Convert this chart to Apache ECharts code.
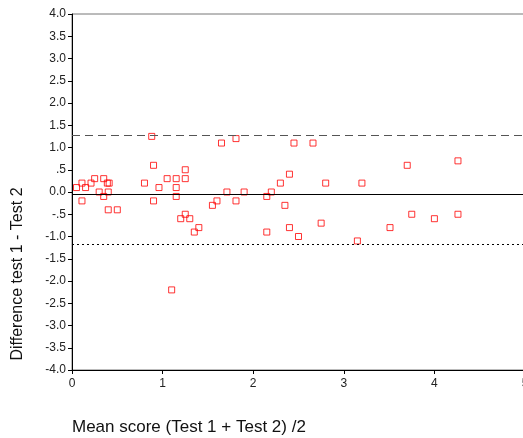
<!DOCTYPE html>
<html>
<head>
<meta charset="utf-8">
<script src="https://cdn.jsdelivr.net/npm/echarts@6/dist/echarts.min.js"></script>
<style>
  html, body { margin: 0; padding: 0; background: #fff; }
  #chart { width: 523px; height: 438px; }
</style>
</head>
<body>
<div id="chart"></div>
<script>
// mean of the two tests (x) and their difference (y)
const meanScores = [
  0.05, 0.11, 0.11, 0.15, 0.21, 0.25, 0.30, 0.35, 0.35, 0.39,
  0.41, 0.40, 0.40, 0.50, 0.80, 0.88, 0.90, 0.90, 0.96, 1.05,
  1.15, 1.15, 1.15, 1.25, 1.25, 1.10, 1.20, 1.25, 1.30, 1.35,
  1.40, 1.55, 1.60, 1.65, 1.71, 1.81, 1.81, 1.90, 2.15, 2.20,
  2.15, 2.30, 2.35, 2.40, 2.40, 2.45, 2.50, 2.66, 2.75, 2.80,
  3.15, 3.20, 3.51, 3.70, 3.75, 4.00, 4.26, 4.26
];
const differences = [
  0.1, 0.2, -0.2, 0.1, 0.2, 0.3, 0.0, 0.3, -0.1, 0.2,
  0.2, 0.0, -0.4, -0.4, 0.2, 1.25, 0.6, -0.2, 0.1, 0.3,
  0.3, 0.1, -0.1, 0.5, 0.3, -2.2, -0.6, -0.5, -0.6, -0.9,
  -0.8, -0.3, -0.2, 1.1, 0.0, 1.2, -0.2, 0.0, -0.1, 0.0,
  -0.9, 0.2, -0.3, 0.4, -0.8, 1.1, -1.0, 1.1, -0.7, 0.2,
  -1.1, 0.2, -0.8, 0.6, -0.5, -0.6, 0.7, -0.5
];

// 平均差和一致性界限
const meanDiff = -0.04;
const upperLimit = 1.27;
const lowerLimit = -1.18;

const xTicks = [0, 1, 2, 3, 4, 5];
const yTicks = [-4, -3.5, -3, -2.5, -2, -1.5, -1, -0.5, 0, 0.5, 1, 1.5, 2, 2.5, 3, 3.5, 4];

const font = '"Liberation Sans", Arial, sans-serif';

// SPSS style labels: ".5" and "-.5"
function fmtY(v) {
  if (v === 0) return '0.0';
  if (Math.abs(v) < 1) return (v < 0 ? '-' : '') + Math.abs(v).toFixed(1).slice(1);
  return v.toFixed(1);
}

const chart = echarts.init(document.getElementById('chart'));

const option = {
  animation: false,
  backgroundColor: '#fff',
  grid: {
    left: 72, width: 453, top: 14, bottom: 68,
    outerBoundsMode: 'none',
    containLabel: false,
    show: true, borderColor: '#777', borderWidth: 1
  },
  xAxis: {
    type: 'value',
    min: xTicks[0],
    max: xTicks[xTicks.length - 1],
    interval: 1,
    splitLine: { show: false },
    axisLine: { onZero: false, lineStyle: { color: '#000', width: 1 } },
    axisTick: { show: true, length: 4, lineStyle: { color: '#000' } },
    axisLabel: { color: '#222', fontSize: 12, fontFamily: font, margin: 8 }
  },
  yAxis: {
    type: 'value',
    min: yTicks[0],
    max: yTicks[yTicks.length - 1],
    interval: 0.5,
    splitLine: { show: false },
    axisLine: { show: true, onZero: false, lineStyle: { color: '#000', width: 1 } },
    axisTick: { show: true, length: 4, lineStyle: { color: '#000' } },
    axisLabel: {
      color: '#222', fontSize: 12, fontFamily: font, margin: 6,
      formatter: fmtY
    }
  },
  graphic: [
    {
      type: 'text',
      x: 72, y: 427,
      style: {
        text: 'Mean score (Test 1 + Test 2) /2', font: '17px ' + font, fill: '#111',
        verticalAlign: 'middle'
      }
    },
    {
      type: 'text',
      x: 18, y: 274,
      rotation: Math.PI / 2,
      style: {
        text: 'Difference test 1 - Test 2', font: '16px ' + font, fill: '#111',
        align: 'center', verticalAlign: 'middle'
      }
    }
  ],
  series: [{
    type: 'scatter',
    data: meanScores.map((x, i) => [x, differences[i]]),
    symbol: 'rect',
    symbolSize: 6,
    itemStyle: { color: 'rgba(0,0,0,0)', borderColor: '#ff0000', borderWidth: 1 },
    markLine: {
      silent: true,
      symbol: 'none',
      label: { show: false },
      data: [
        { yAxis: meanDiff, lineStyle: { color: '#000', width: 1, type: 'solid' } },
        { yAxis: upperLimit, lineStyle: { color: '#555', width: 1, type: [8, 5] } },
        { yAxis: lowerLimit, lineStyle: { color: '#000', width: 1, type: [2, 3] } }
      ]
    }
  }]
};

chart.setOption(option);
</script>
</body>
</html>
